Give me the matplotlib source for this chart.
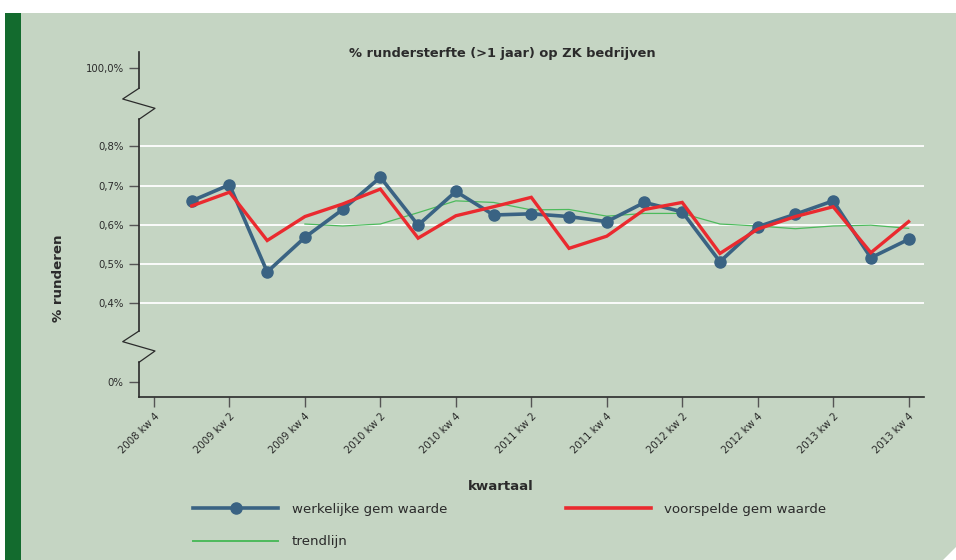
import matplotlib
matplotlib.use("Agg")
import matplotlib.pyplot as plt
from matplotlib.patches import Rectangle, Polygon
from matplotlib.lines import Line2D
import numpy as np

plt.rcParams["font.family"] = ["DejaVu Sans"]

tick_labels = ["2008 kw 4", "2009 kw 2", "2009 kw 4", "2010 kw 2", "2010 kw 4",
               "2011 kw 2", "2011 kw 4", "2012 kw 2", "2012 kw 4", "2013 kw 2", "2013 kw 4"]

# quarters 2009 kw1 .. 2013 kw4 (index 1..20, 0 = 2008 kw 4)
werkelijk = [0.661, 0.702, 0.480, 0.568, 0.639, 0.721, 0.599, 0.685, 0.625, 0.628,
             0.621, 0.608, 0.657, 0.633, 0.506, 0.595, 0.627, 0.661, 0.516, 0.563]
voorspeld = [0.648, 0.683, 0.560, 0.621, 0.653, 0.691, 0.566, 0.623, 0.646, 0.670,
             0.540, 0.571, 0.639, 0.657, 0.527, 0.589, 0.621, 0.646, 0.529, 0.608]
trend = [0.602, 0.597, 0.602, 0.631, 0.661, 0.657, 0.638, 0.639, 0.622, 0.629,
         0.629, 0.602, 0.597, 0.590, 0.597, 0.599, 0.591]  # from 2009 kw4

ytick_pos = [0.2, 0.4, 0.5, 0.6, 0.7, 0.8, 1.0]
ytick_lab = ["0%", "0,4%", "0,5%", "0,6%", "0,7%", "0,8%", "100,0%"]
grid_vals = [0.4, 0.5, 0.6, 0.7, 0.8]

BG = "#c5d5c3"
BLUE = "#3a6383"
RED = "#ea2a2f"
GREEN = "#4dba5c"
DARK = "#2b2b2b"

W, H = 956, 560
fig = plt.figure(figsize=(W / 100, H / 100), dpi=100)
fig.patch.set_facecolor("white")

# background panels
fig.add_artist(Rectangle((21 / W, 0), 1 - 21 / W, 1 - 13 / H, transform=fig.transFigure,
                         facecolor=BG, edgecolor="none", zorder=-10))
fig.add_artist(Rectangle((5 / W, 0), 16 / W, 1 - 13 / H, transform=fig.transFigure,
                         facecolor="#136b2e", edgecolor="none", zorder=-10))
fig.add_artist(Polygon([(943 / W, 0), (1, 0), (1, 13 / H)], closed=True,
                       transform=fig.transFigure, facecolor="white", edgecolor="none", zorder=-9))

x0, x1 = 139, 924
y0, y1 = 397, 52
ax = fig.add_axes([x0 / W, 1 - y0 / H, (x1 - x0) / W, (y0 - y1) / H])
ax.set_facecolor("none")

px_per_q = 37.73
ax.set_xlim((x0 - 154) / px_per_q, (x1 - 154) / px_per_q)
px_per_unit = 392.5
ax.set_ylim(0.8 - (y0 - 146.3) / px_per_unit, 0.8 + (146.3 - y1) / px_per_unit)

for g in grid_vals:
    ax.axhline(g, color="white", lw=1.3, zorder=1)

xs = np.arange(1, len(werkelijk) + 1)
ax.plot(xs, werkelijk, color=BLUE, lw=2.6, marker="o", ms=8, zorder=3,
        solid_joinstyle="miter")
ax.plot(xs, voorspeld, color=RED, lw=2.4, zorder=4, solid_joinstyle="miter")
xt = np.arange(4, 4 + len(trend))
ax.plot(xt, trend, color=GREEN, lw=0.9, zorder=2)

ax.set_xticks(np.arange(0, 21, 2))
ax.set_xticklabels(tick_labels, rotation=45, ha="right", rotation_mode="anchor",
                   fontsize=7.3, color=DARK)
ax.set_yticks(ytick_pos)
ax.set_yticklabels(ytick_lab, fontsize=7.3, color=DARK)
ax.tick_params(axis="x", length=7, width=1, color="#555555", pad=3)
ax.tick_params(axis="y", length=7, width=1, color="#555555", pad=4)

for s in ["top", "right", "left"]:
    ax.spines[s].set_visible(False)
ax.spines["bottom"].set_color(DARK)
ax.spines["bottom"].set_linewidth(1.2)

# broken y axis
yl = ax.get_ylim()
tr = ax.get_yaxis_transform()
segs = [(yl[0], 0.2497), (0.3294, 0.8688), (0.9478, yl[1])]
for a, b in segs:
    ax.plot([0, 0], [a, b], color=DARK, lw=1.2, transform=tr, clip_on=False, zorder=5)
dx1 = -16.3 / (x1 - x0)
dx2 = 16 / (x1 - x0)
for zz in ([0.9478, 0.9205, 0.8968, 0.8688], [0.3294, 0.3022, 0.2785, 0.2497]):
    ax.plot([0, dx1, dx2, 0], zz, color=DARK, lw=0.9, transform=tr, clip_on=False, zorder=5)

fig.text(502 / W, 1 - 53 / H, "% rundersterfte (>1 jaar) op ZK bedrijven", ha="center",
         va="center", fontsize=9.4, fontweight="bold", color=DARK)
fig.text(59 / W, 1 - 278 / H, "% runderen", ha="center", va="center", rotation=90,
         fontsize=9.6, fontweight="bold", color=DARK)
fig.text(501 / W, 1 - 487 / H, "kwartaal", ha="center", va="center", fontsize=9.6,
         fontweight="bold", color=DARK)

handles = [Line2D([], [], color=BLUE, lw=2.6, marker="o", ms=8),
           Line2D([], [], color=GREEN, lw=1.4),
           Line2D([], [], color=RED, lw=2.6)]
labels = ["werkelijke gem waarde", "trendlijn", "voorspelde gem waarde"]
fig.legend(handles, labels, ncol=2, loc="upper left", bbox_to_anchor=(193 / W, 1 - 503 / H),
           frameon=False, fontsize=9.6, handlelength=6.4, handletextpad=1.0,
           columnspacing=8.9, labelspacing=1.45, borderpad=0, borderaxespad=0,
           labelcolor=DARK)

fig.savefig("out.png", dpi=100, facecolor=fig.get_facecolor())
